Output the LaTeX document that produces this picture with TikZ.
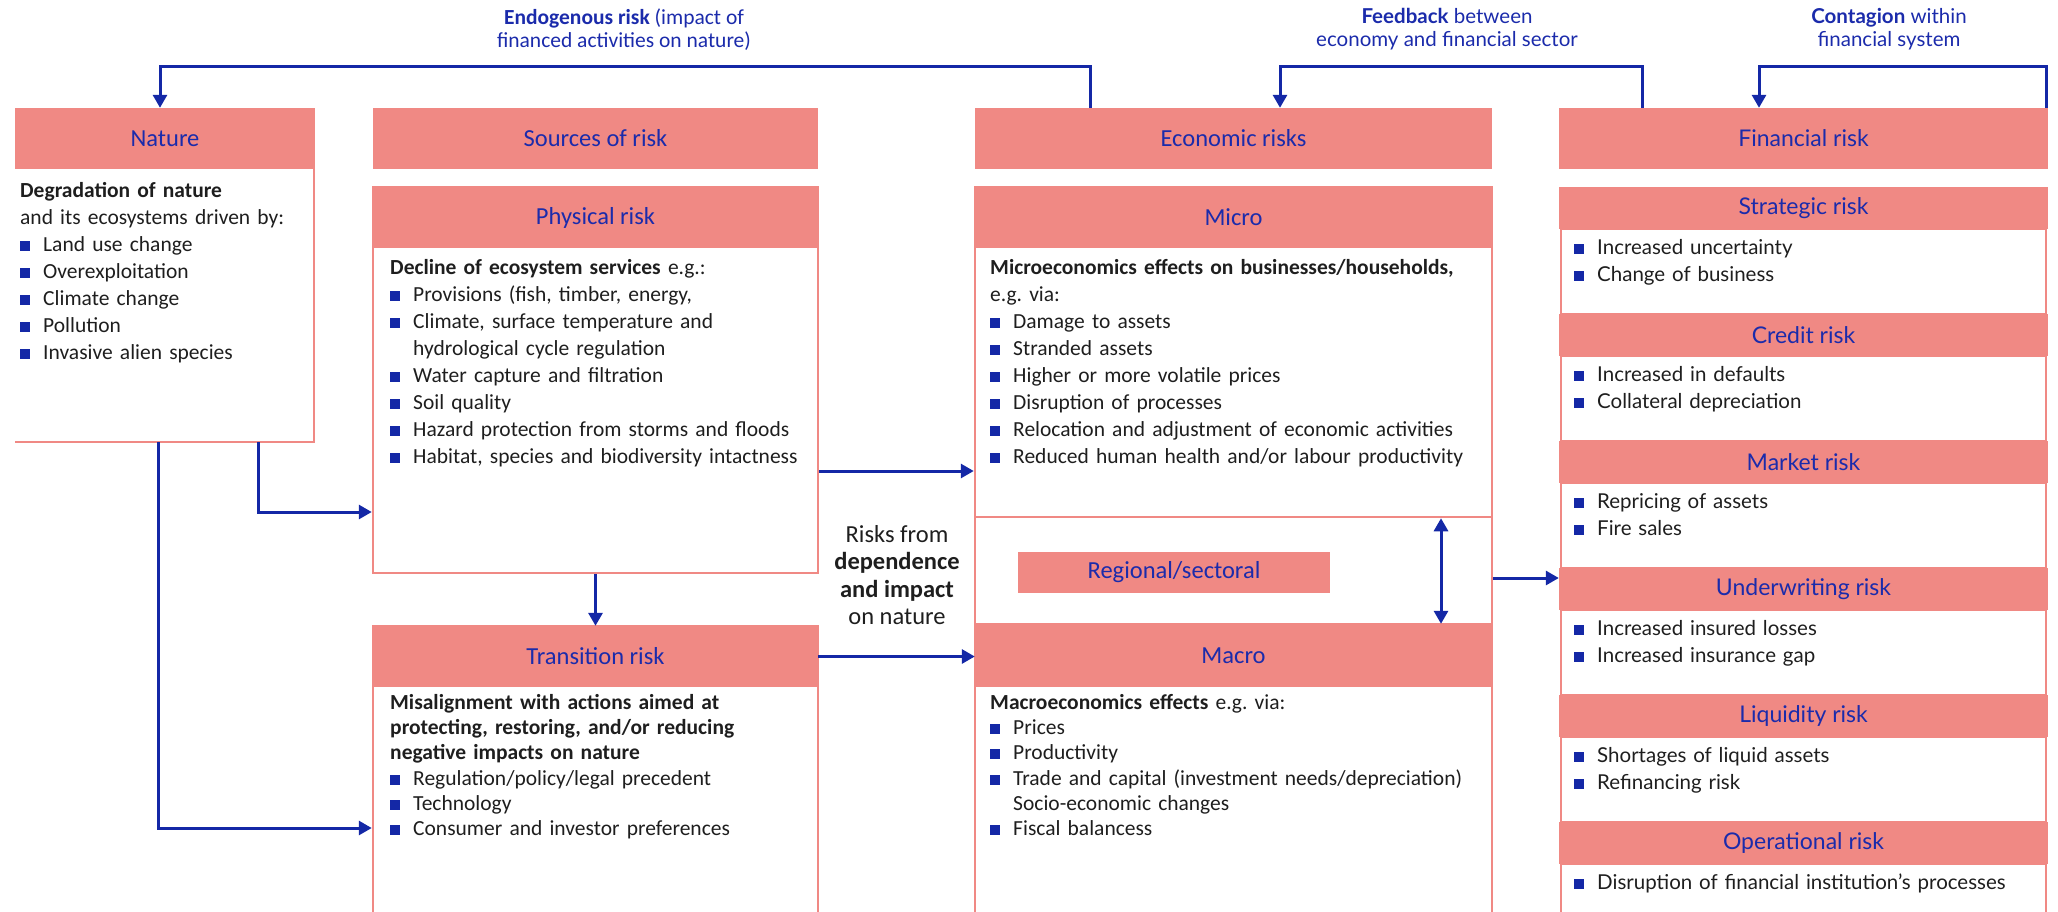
\documentclass[tikz,border=0pt]{standalone}
\usepackage{fontspec}
\setmainfont{Carlito}
\newfontfamily\finfont{Lato}
\usetikzlibrary{arrows.meta}

\definecolor{rose}{HTML}{F08984}
\definecolor{ink}{HTML}{1B2BAB}
\definecolor{navy}{HTML}{1428A6}
\definecolor{dark}{HTML}{1E1E1E}

\newcommand{\bulx}[1]{\hangindent=23pt\hangafter=1\noindent\hbox to 23pt{\textcolor{navy}{\rule[0.5pt]{10pt}{10pt}}\hss}#1}
\newcommand{\bul}[1]{\par\bulx{#1}}

\begin{document}
\begin{tikzpicture}[x=1pt, y=-1pt, >={Triangle[length=13pt,width=14pt]}]
        \tikzset{Head/.style={shape=rectangle, fill=rose, text=ink, inner sep=0, font=\fontsize{24.5}{27}\selectfont}}
        \tikzset{FinHead/.style={Head, font=\finfont\fontsize{23}{26}\selectfont, minimum width=489pt, minimum height=42pt}}
        \tikzset{Box/.style={shape=rectangle, draw=rose, line width=2.5pt, inner sep=0}}
        \tikzset{FinBox/.style={Box, minimum width=485pt, minimum height=85pt}}
        \tikzset{Body/.style={anchor=north west, inner sep=0, align=left, text=dark, font=\fontsize{21.5}{27}\selectfont}}
        \tikzset{FinBody/.style={Body, text width=465pt, font=\finfont\fontsize{20.5}{27}\selectfont}}
        \tikzset{Lbl/.style={align=center, inner sep=0, text=ink, font=\fontsize{21.5}{23}\selectfont}}
        \tikzset{Arr/.style={->, draw=navy, line width=3pt}}

        \useasboundingbox (0,0) rectangle (2058,911);
        \clip (0,0) rectangle (2058,911);

        % top labels
        \node[Lbl] (endolbl) at (624,29.5) {\textbf{Endogenous risk} (impact of\\financed activities on nature)};
        \node[Lbl, font=\finfont\fontsize{20.5}{23}\selectfont] (feedlbl) at (1447,29.5) {\textbf{Feedback} between\\economy and financial sector};
        \node[Lbl, font=\finfont\fontsize{20.5}{23}\selectfont] (contlbl) at (1889,29.5) {\textbf{Contagion} within\\financial system};

        % column headers
        \node[Head, minimum width=300pt, minimum height=61pt] (nature) at (165,138.5) {Nature};
        \node[Head, minimum width=445pt, minimum height=61pt] (sources) at (595.5,138.5) {Sources of risk};
        \node[Head, minimum width=517pt, minimum height=61pt] (econ) at (1233.5,138.5) {Economic risks};
        \node[FinHead, minimum height=61pt] (fin) at (1803.5,138.5) {Financial risk};

        % nature
        \node[inner sep=0, minimum width=299pt, minimum height=273pt] (natbody) at (164.5,305.5) {};
        \draw[rose, line width=2.5pt] (natbody.north east) -- (natbody.south east) -- (natbody.south west);
        \node[Body, text width=290pt] (nattext) at (20,182) {\textbf{Degradation of nature}\\and its ecosystems driven by:\bul{Land use change}\bul{Overexploitation}\bul{Climate change}\bul{Pollution}\bul{Invasive alien species}};

        % sources of risk
        \node[Box, minimum width=445pt, minimum height=386pt] (physbox) at (595.5,380) {};
        \node[Head, minimum width=445pt, minimum height=61pt] (physhead) at (595.5,217.5) {Physical risk};
        \node[Body, text width=425pt] (phystext) at (390,259) {\textbf{Decline of ecosystem services} e.g.:\bul{Provisions (fish, timber, energy,}\bul{Climate, surface temperature and\break hydrological cycle regulation}\bul{Water capture and filtration}\bul{Soil quality}\bul{Hazard protection from storms and floods}\bul{Habitat, species and biodiversity intactness}};

        \node[Box, minimum width=445pt, minimum height=290pt] (transbox) at (595.5,771) {};
        \node[Head, minimum width=445pt, minimum height=61pt] (transhead) at (595.5,656.5) {Transition risk};
        \node[Body, text width=425pt, font=\fontsize{21.5}{25.3}\selectfont] (transtext) at (390,694) {{\bfseries Misalignment with actions aimed at\\protecting, restoring, and/or reducing\\negative impacts on nature}\bul{Regulation/policy/legal precedent}\bul{Technology}\bul{Consumer and investor preferences}};

        \node[align=center, inner sep=0, text=dark, font=\fontsize{24.5}{27.5}\selectfont] (depend) at (897,575) {Risks from\\\textbf{dependence}\\\textbf{and impact}\\on nature};

        % economic risks
        \node[Box, minimum width=517pt, minimum height=330pt] (microbox) at (1233.5,352) {};
        \node[Head, minimum width=517pt, minimum height=61pt] (microhead) at (1233.5,217.5) {Micro};
        \node[Body, text width=495pt] (microtext) at (990,259) {\textbf{Microeconomics effects on businesses/households,}\\e.g.\ via:\bul{Damage to assets}\bul{Stranded assets}\bul{Higher or more volatile prices}\bul{Disruption of processes}\bul{Relocation and adjustment of economic activities}\bul{Reduced human health and/or labour productivity}};

        \node[Box, minimum width=517pt, minimum height=107pt] (midbox) at (1233.5,570.5) {};
        \node[Head, minimum width=312pt, minimum height=41pt] (regional) at (1174,572.5) {Regional/sectoral};

        \node[Box, minimum width=517pt, minimum height=292pt] (macrobox) at (1233.5,770) {};
        \node[Head, minimum width=517pt, minimum height=63pt] (macrohead) at (1233.5,655.5) {Macro};
        \node[Body, text width=495pt, font=\fontsize{21.5}{25.3}\selectfont] (macrotext) at (990,694) {\textbf{Macroeconomics effects} e.g.\ via:\bul{Prices}\bul{Productivity}\bul{Trade and capital (investment needs/depreciation)\break Socio-economic changes}\bul{Fiscal balancess}};

        % financial risk
        \node[FinBox] (stratbox) at (1803.5,271.5) {};
        \node[FinHead] (strathead) at (1803.5,208) {Strategic risk};
        \node[FinBody] (strattext) at (1574,239) {\bulx{Increased uncertainty}\bul{Change of business}};

        \node[FinBox] (credbox) at (1803.5,398.5) {};
        \node[FinHead] (credhead) at (1803.5,335) {Credit risk};
        \node[FinBody] (credtext) at (1574,366) {\bulx{Increased in defaults}\bul{Collateral depreciation}};

        \node[FinBox] (markbox) at (1803.5,525.5) {};
        \node[FinHead] (markhead) at (1803.5,462) {Market risk};
        \node[FinBody] (marktext) at (1574,493) {\bulx{Repricing of assets}\bul{Fire sales}};

        \node[FinBox] (uwbox) at (1803.5,652.5) {};
        \node[FinHead] (uwhead) at (1803.5,589) {Underwriting risk};
        \node[FinBody] (uwtext) at (1574,620) {\bulx{Increased insured losses}\bul{Increased insurance gap}};

        \node[FinBox] (liqbox) at (1803.5,779.5) {};
        \node[FinHead] (liqhead) at (1803.5,716) {Liquidity risk};
        \node[FinBody] (liqtext) at (1574,747) {\bulx{Shortages of liquid assets}\bul{Refinancing risk}};

        \node[FinBox] (opbox) at (1803.5,906.5) {};
        \node[FinHead] (ophead) at (1803.5,843) {Operational risk};
        \node[FinBody] (optext) at (1574,874) {\bulx{Disruption of financial institution’s processes}};

        % arrows
        \coordinate (endo) at (1090,66);
        \coordinate (feed) at (1642,66);
        \coordinate (cont) at (2046,66);
        \draw[Arr] (econ.north -| endo) -- (endo) -| ([xshift=-5pt]nature.north);
        \draw[Arr] (fin.north -| feed) -- (feed) -| ([xshift=46.5pt]econ.north);
        \draw[Arr] (fin.north -| cont) -- (cont) -| ([xshift=-44.5pt]fin.north);

        \draw[Arr] ([xshift=93.5pt]natbody.south) |- ([yshift=-132pt]physbox.west);
        \draw[Arr] ([xshift=-6.5pt]natbody.south) |- ([yshift=-57pt]transbox.west);
        \draw[Arr] (physbox.south) -- (transhead.north);

        \coordinate (pm) at ([yshift=-91pt]physbox.east);
        \draw[Arr] (pm) -- (pm -| microbox.west);
        \draw[Arr] (transhead.east) -- (transhead.east -| macrohead.west);
        \draw[Arr, <->] ([xshift=207.5pt]microbox.south) -- ([xshift=207.5pt]macrohead.north);

        \coordinate (ef) at ([yshift=-7.5pt]midbox.east);
        \draw[Arr] (ef) -- (ef -| uwhead.west);
    \end{tikzpicture}
\end{document}
